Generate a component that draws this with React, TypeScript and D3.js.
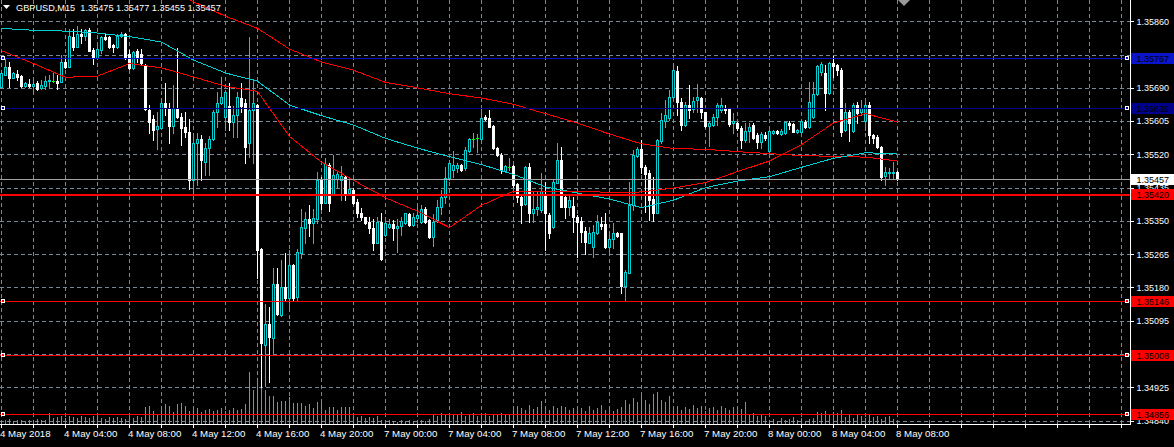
import * as d3 from 'd3'

const title = 'GBPUSD,M15  1.35475 1.35477 1.35455 1.35457'

// M15 bars from 4 May 00:00, [open, high, low, close] in points above 1.30000
const bars: number[][] = [
  [5692,5735,5689,5729],[5722,5766,5722,5743],[5743,5756,5692,5715],[5715,5730,5715,5727],[5725,5735,5710,5717],[5720,5722,5692,5694],[5694,5704,5692,5702],[5699,5712,5692,5694],
  [5694,5710,5679,5699],[5702,5707,5684,5687],[5689,5710,5687,5697],[5694,5720,5687,5707],[5707,5722,5689,5710],[5707,5730,5704,5707],[5707,5722,5687,5702],[5704,5773,5704,5756],
  [5756,5766,5740,5743],[5743,5840,5743,5822],[5819,5840,5786,5794],[5794,5848,5794,5827],[5827,5840,5804,5822],[5822,5840,5812,5837],[5837,5842,5784,5784],[5786,5791,5750,5768],
  [5766,5799,5763,5789],[5786,5822,5779,5819],[5819,5827,5812,5814],[5819,5822,5791,5794],[5799,5802,5781,5794],[5794,5827,5791,5822],[5822,5832,5819,5827],[5827,5830,5763,5766],
  [5776,5786,5738,5740],[5740,5784,5738,5781],[5784,5789,5756,5768],[5776,5789,5750,5753],[5748,5750,5633,5635],[5633,5646,5574,5602],[5610,5620,5556,5582],[5584,5628,5533,5592],
  [5587,5664,5587,5651],[5651,5702,5620,5638],[5638,5651,5549,5592],[5592,5697,5574,5638],[5638,5791,5612,5615],[5615,5625,5544,5587],[5590,5628,5564,5577],[5577,5610,5431,5454],
  [5454,5574,5421,5549],[5549,5574,5441,5559],[5559,5569,5454,5505],[5500,5549,5467,5536],[5536,5566,5467,5559],[5559,5633,5556,5628],[5628,5679,5590,5651],[5651,5717,5648,5666],
  [5615,5684,5582,5679],[5643,5702,5582,5602],[5602,5643,5564,5620],[5620,5679,5564,5666],[5664,5702,5628,5643],[5651,5661,5498,5538],[5549,5819,5513,5633],[5633,5712,5498,5651],
  [5646,5648,5204,5275],[5278,5280,4925,5038],[5032,5137,4928,5086],[5086,5130,4938,5053],[5050,5229,5012,5188],[5188,5229,5109,5112],[5109,5250,5107,5181],[5181,5268,5148,5153],
  [5153,5275,5122,5237],[5237,5240,5148,5153],[5155,5278,5148,5270],[5268,5380,5255,5334],[5331,5372,5293,5354],[5354,5390,5311,5344],[5344,5380,5293,5357],[5354,5475,5344,5454],
  [5454,5462,5380,5395],[5395,5510,5395,5495],[5492,5498,5375,5395],[5418,5518,5416,5467],[5457,5475,5436,5469],[5454,5490,5403,5464],[5462,5467,5403,5421],[5421,5457,5418,5431],
  [5429,5434,5393,5395],[5398,5406,5360,5370],[5370,5383,5352,5360],[5360,5360,5342,5344],[5347,5360,5319,5331],[5331,5354,5275,5293],[5293,5360,5293,5347],[5347,5370,5250,5252],
  [5314,5352,5311,5344],[5334,5354,5331,5342],[5342,5352,5301,5331],[5331,5354,5270,5337],[5337,5360,5314,5349],[5344,5370,5342,5370],[5367,5370,5337,5339],[5339,5370,5337,5360],
  [5357,5385,5347,5365],[5347,5390,5344,5380],[5380,5385,5344,5347],[5352,5354,5306,5308],[5308,5367,5285,5347],[5352,5403,5347,5385],[5385,5429,5367,5411],[5411,5487,5395,5459],
  [5459,5505,5454,5498],[5480,5528,5462,5492],[5485,5498,5475,5492],[5492,5495,5477,5480],[5485,5538,5480,5531],[5528,5561,5526,5559],[5559,5574,5538,5559],[5561,5572,5526,5561],
  [5559,5638,5556,5612],[5615,5620,5607,5610],[5612,5633,5590,5590],[5592,5595,5533,5536],[5536,5538,5515,5518],[5518,5523,5472,5480],[5477,5492,5475,5490],[5487,5510,5480,5487],
  [5490,5492,5436,5441],[5444,5446,5398,5411],[5411,5416,5344,5390],[5393,5490,5390,5487],[5487,5498,5347,5370],[5370,5423,5347,5380],[5380,5423,5365,5385],[5377,5472,5372,5426],
  [5416,5449,5275,5370],[5365,5370,5306,5319],[5334,5454,5331,5449],[5446,5549,5446,5505],[5505,5538,5385,5385],[5411,5416,5357,5385],[5385,5416,5365,5403],[5388,5411,5321,5360],
  [5360,5365,5257,5347],[5349,5360,5296,5321],[5324,5334,5265,5296],[5293,5334,5293,5319],[5283,5339,5257,5321],[5319,5365,5316,5347],[5342,5360,5329,5337],[5342,5370,5280,5283],
  [5283,5321,5265,5303],[5303,5344,5280,5319],[5319,5321,5308,5311],[5319,5319,5165,5183],[5183,5224,5148,5219],[5216,5449,5216,5390],[5390,5531,5377,5518],[5515,5538,5513,5533],
  [5533,5556,5472,5487],[5487,5492,5372,5469],[5472,5480,5352,5403],[5406,5462,5349,5370],[5370,5559,5370,5556],[5554,5625,5549,5607],[5605,5658,5590,5620],[5612,5684,5607,5666],
  [5666,5748,5664,5735],[5733,5745,5620,5653],[5653,5664,5582,5595],[5595,5653,5592,5646],[5646,5697,5612,5633],[5635,5666,5628,5656],[5658,5699,5628,5666],[5664,5666,5612,5628],
  [5628,5628,5590,5592],[5592,5602,5541,5600],[5595,5623,5592,5615],[5615,5651,5595,5646],[5633,5664,5628,5646],[5638,5646,5625,5633],[5635,5638,5592,5597],[5600,5625,5574,5605],
  [5600,5602,5582,5587],[5587,5592,5536,5556],[5556,5600,5551,5579],[5579,5600,5551,5590],[5595,5600,5559,5561],[5569,5574,5536,5551],[5551,5577,5536,5572],[5569,5577,5556,5561],
  [5528,5582,5526,5579],[5574,5582,5572,5579],[5579,5582,5572,5574],[5572,5584,5569,5579],[5574,5605,5572,5602],[5600,5605,5584,5595],[5597,5600,5577,5577],[5577,5584,5574,5582],
  [5577,5607,5577,5605],[5602,5607,5587,5590],[5590,5704,5587,5653],[5615,5704,5612,5674],[5674,5748,5671,5745],[5730,5756,5722,5750],[5727,5748,5633,5676],[5676,5756,5674,5753],
  [5753,5771,5717,5745],[5748,5750,5722,5735],[5735,5740,5566,5577],[5582,5651,5579,5628],[5628,5633,5554,5600],[5579,5651,5577,5646],[5646,5653,5600,5625],[5628,5658,5620,5638],
  [5605,5653,5582,5646],[5646,5653,5549,5569],[5569,5572,5549,5561],[5564,5569,5536,5538],[5538,5541,5454,5462],[5464,5487,5441,5475],[5472,5485,5459,5475],[5472,5500,5459,5475],
  [5475,5477,5455,5457],
]

// tick volume per bar
const volumes = [
  160,140,180,120,150,170,130,160,140,190,150,170,420,
  220,260,300,250,330,280,240,300,260,220,310,270,240,200,260,230,290,250,210,270,240,300,260,
  680,720,520,380,640,800,700,460,780,820,720,500,
  560,620,480,540,600,500,560,640,520,580,620,540,600,
  800,2080,1360,1840,1440,1360,1120,1120,880,920,920,
  1080,840,840,840,720,800,640,880,
  880,560,680,680,560,680,680,680,
  300,260,320,240,280,220,300,
  140,100,160,120,80,140,100,160,120,100,140,120,180,
  380,300,420,360,280,400,340,460,300,380,420,320,360,440,300,380,340,420,360,400,
  560,700,620,540,760,600,680,920,640,580,700,620,720,660,560,640,600,
  620,520,700,560,640,760,580,680,520,600,660,
  960,800,1040,880,1120,960,800,1200,1280,960,880,1120,
  640,720,560,680,600,760,640,700,520,620,680,580,720,640,560,680,620,600,
  880,360,420,300,380,320,
  120,180,100,240,140,200,260,160,220,120,180,240,
  460,420,520,380,480,440,540,
  260,340,220,380,300,240,360,280,320,200,260,300,180,140,
]

// moving averages, one value every 8 bars (points above 1.30000)
const maEvery = 8
const cyanMa = [5842,5837,5835,5830,5821,5807,5761,5728,5707,5646,5619,5595,5561,5536,5514,5494,5469,5437,5421,5406,5384,5403,5435,5452,5463,5487,5510,5524,5522]
const fastRedMa = [5785,5752,5717,5720,5752,5741,5718,5694,5681,5566,5500,5454,5409,5375,5333,5390,5426,5425,5426,5423,5424,5434,5448,5476,5503,5545,5600,5624,5603]
const slowRedFrom = 40
const slowRedMa = [5947,5910,5873,5842,5789,5756,5735,5704,5690,5675,5664,5648,5624,5600,5572,5547,5535,5533,5527,5522,5517,5515,5513,5503]

// grid prices; the labels of 1.35775 and 1.35010 sit under level labels and are not shown
const priceTicks = [1.3586, 1.35775, 1.3569, 1.35605, 1.3552, 1.35435, 1.3535, 1.35265, 1.3518, 1.35095, 1.3501, 1.34925, 1.3484]
const hiddenTickLabels = [1.35775, 1.3501]
const timeLabels = ['4 May 2018', '4 May 04:00', '4 May 08:00', '4 May 12:00', '4 May 16:00', '4 May 20:00', '7 May 00:00', '7 May 04:00', '7 May 08:00', '7 May 12:00', '7 May 16:00', '7 May 20:00', '8 May 00:00', '8 May 04:00', '8 May 08:00']
const levelPrices = [1.35767, 1.35639, 1.3542, 1.35146, 1.35008, 1.34856]
const levelColors = ['#0a14c8', '#00008c', '#ff0000', '#ff0000', '#ff0000', '#ff0000']
const lastBid = 1.35457

const font = "'Liberation Sans', Arial, sans-serif"
const cyan = '#00ced1'
const gridColor = '#778899'

export default function App() {
  const width = 1174
  const height = 447
  const right = 1130
  const bottom = 424

  const x = d3.scaleLinear().domain([0, 280]).range([1, 1121])
  const y = d3.scaleLinear().domain([1.3586, 1.34925]).range([21.3, 387.3])
  const vol = d3.scaleLinear().domain([0, 2000]).range([0, 50])
  const pt = (v: number) => 1.3 + v / 100000
  const py = (v: number) => Math.round(y(pt(v)))

  const maPath = (vals: number[], from: number) =>
    d3.line<number>()
      .x((_, k) => x(from + k * maEvery) + 0.5)
      .y(v => y(pt(v)))(vals) || ''

  const gridX = d3.range(0, 36).map(k => 1 + 32 * k)

  return (
    <svg width={width} height={height} style={{ position: 'fixed', left: 0, top: 0, display: 'block' }}>
      <defs>
        <clipPath id="plot"><rect x={0} y={0} width={right} height={bottom} /></clipPath>
      </defs>
      <rect width={width} height={height} fill="#000" />

      <g clipPath="url(#plot)">
        {/* grid */}
        <g stroke={gridColor} strokeDasharray="4,3" shapeRendering="crispEdges">
          {gridX.map(gx => <line key={'v' + gx} x1={gx + 0.5} x2={gx + 0.5} y1={0} y2={bottom} />)}
          {priceTicks.map(p => <line key={'h' + p} x1={0} x2={right} y1={Math.round(y(p)) + 0.5} y2={Math.round(y(p)) + 0.5} />)}
        </g>

        {/* volumes */}
        <g fill="#32cd32" shapeRendering="crispEdges">
          {volumes.map((v, i) => (
            <rect key={i} x={x(i)} y={bottom - Math.round(vol(v))} width={1} height={Math.round(vol(v))} />
          ))}
        </g>

        {/* candles */}
        <g shapeRendering="crispEdges">
          {bars.map(([o, h, l, c], i) => {
            const cx = x(i)
            const top = py(Math.max(o, c))
            const bot = py(Math.min(o, c))
            const hi = py(h)
            const lo = py(l)
            if (o === c) {
              return (
                <g key={i} fill="#00ff00">
                  <rect x={cx} y={hi} width={1} height={lo - hi + 1} />
                  <rect x={cx - 1} y={top} width={3} height={1} />
                </g>
              )
            }
            if (c > o) {
              return (
                <g key={i}>
                  <rect x={cx} y={hi} width={1} height={lo - hi + 1} fill={cyan} />
                  {bot - top < 2
                    ? <rect x={cx - 1} y={top} width={3} height={bot - top + 1} fill={cyan} />
                    : <rect x={cx - 0.5} y={top + 0.5} width={2} height={bot - top} fill="#000" stroke={cyan} strokeWidth={1} />}
                </g>
              )
            }
            return (
              <g key={i} fill="#fff">
                <rect x={cx} y={hi} width={1} height={lo - hi + 1} />
                <rect x={cx - 1} y={top} width={3} height={bot - top + 1} />
              </g>
            )
          })}
        </g>

        {/* moving averages */}
        <g fill="none" strokeWidth={1} shapeRendering="crispEdges">
          <path d={maPath(slowRedMa, slowRedFrom)} stroke="#ff0000" />
          <path d={maPath(cyanMa, 0)} stroke={cyan} />
          <path d={maPath(fastRedMa, 0)} stroke="#ff0000" />
        </g>

        {/* bid line */}
        <line x1={0} x2={right} y1={Math.round(y(lastBid)) + 0.5} y2={Math.round(y(lastBid)) + 0.5} stroke="#a0a4a8" shapeRendering="crispEdges" />

        {/* horizontal levels */}
        {levelPrices.map((p, k) => {
          const ly = Math.round(y(p))
          const thick = p === 1.3542
          return (
            <g key={p} shapeRendering="crispEdges">
              <rect x={0} y={ly} width={right} height={thick ? 2 : 1} fill={levelColors[k]} />
              {!thick && (
                <>
                  <rect x={1.5} y={ly - 1.5} width={3} height={3} fill={levelColors[k]} stroke="#fff" />
                  <rect x={1125.5} y={ly - 1.5} width={3} height={3} fill={levelColors[k]} stroke="#fff" />
                </>
              )}
            </g>
          )
        })}

        {/* shift marker */}
        <polygon points="898,0 910,0 904,6" fill="#9a9a9a" />
      </g>

      {/* frame */}
      <g stroke="#fff" shapeRendering="crispEdges">
        <line x1={right + 0.5} x2={right + 0.5} y1={0} y2={bottom + 1} />
        <line x1={0} x2={right + 1} y1={bottom + 0.5} y2={bottom + 0.5} />
        {gridX.map(gx => <line key={'t' + gx} x1={gx + 0.5} x2={gx + 0.5} y1={bottom} y2={bottom + 4} />)}
        {priceTicks.map(p => <line key={'pt' + p} x1={right} x2={right + 4} y1={Math.round(y(p)) + 0.5} y2={Math.round(y(p)) + 0.5} />)}
      </g>

      {/* price axis labels */}
      <g fill="#fff" fontFamily={font} fontSize={9}>
        {priceTicks.filter(p => !hiddenTickLabels.includes(p)).map(p => (
          <text key={p} x={1136.5} y={y(p) + 3.3}>{p.toFixed(5)}</text>
        ))}
      </g>

      {/* level labels */}
      {levelPrices.map((p, k) => (
        <g key={'l' + p}>
          <rect x={1131} y={Math.round(y(p)) - 5} width={43} height={11} fill={levelColors[k]} />
          <text x={1136.5} y={Math.round(y(p)) + 3.8} fill="#000" fontFamily={font} fontSize={9}>{p.toFixed(5)}</text>
        </g>
      ))}
      <rect x={1131} y={Math.round(y(lastBid)) - 5} width={43} height={11} fill="#fff" />
      <text x={1136.5} y={Math.round(y(lastBid)) + 3.8} fill="#000" fontFamily={font} fontSize={9}>{lastBid.toFixed(5)}</text>

      {/* time axis labels */}
      <g fill="#fff" fontFamily={font} fontSize={9.7}>
        {timeLabels.map((t, k) => (
          <text key={t} x={x(k * 16) - 1} y={437}>{t}</text>
        ))}
      </g>

      {/* title */}
      <polygon points="3,5 10,5 6.5,9" fill="#fff" />
      <text x={16} y={10.6} fill="#fff" fontFamily={font} fontSize={9.2} style={{ whiteSpace: 'pre' }}>{title}</text>
    </svg>
  )
}
